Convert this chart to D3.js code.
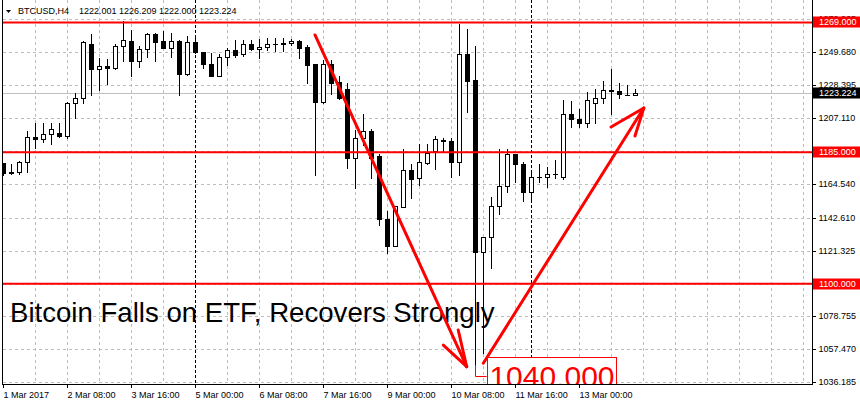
<!DOCTYPE html>
<html><head><meta charset="utf-8">
<script src="https://cdn.jsdelivr.net/npm/d3@7"></script>
<style>html,body{margin:0;padding:0;background:#fff;overflow:hidden}svg{display:block}</style>
</head><body><svg id="c" width="860" height="406"></svg>
<script>
// ---- data (BTCUSD H4, 1 Mar 2017 00:00 onward, one bar per 4h) ----
const opens = [1177.9,1171.6,1172.0,1178.5,1194.7,1193.4,1196.8,1197.3,1195.7,1216.7,
1219.9,1254.8,1238.7,1240.8,1239.3,1253.7,1257.0,1244.2,1251.6,1261.3,
1257.0,1252.6,1257.0,1235.6,1256.1,1249.7,1242.3,1234.5,1246.4,1251.1,
1248.4,1254.8,1251.6,1252.9,1254.8,1255.5,1255.5,1257.0,1252.9,1241.9,
1217.3,1241.9,1230.6,1225.7,1181.5,1194.0,1198.7,1182.6,1141.8,1124.5,
1149.9,1173.5,1168.1,1178.2,1185.8,1192.7,1192.3,1178.9,1248.4,1231.6,
1120.3,1130.0,1150.0,1163.0,1183.7,1177.2,1159.5,1168.7,1168.8,1170.8,
1168.7,1209.6,1206.3,1203.7,1217.2,1219.9,1225.1,1224.6,1222.0,1222.001];
const highs = [1178.3,1177.7,1179.5,1198.8,1203.9,1203.9,1203.9,1203.9,1217.3,1223.3,
1257.0,1261.5,1246.2,1245.3,1255.0,1270.1,1264.1,1253.7,1262.3,1262.0,
1263.6,1262.0,1257.6,1260.4,1260.4,1249.9,1249.0,1248.4,1252.6,1257.6,
1257.6,1257.6,1258.3,1258.7,1258.7,1258.7,1258.3,1257.6,1254.4,1242.1,
1244.7,1244.7,1234.3,1229.6,1199.4,1209.6,1199.9,1184.2,1147.3,1150.5,
1187.1,1177.2,1190.2,1190.3,1195.5,1194.5,1194.0,1268.3,1264.5,1253.5,
1130.2,1156.2,1187.4,1187.0,1184.2,1178.7,1172.2,1177.2,1175.6,1180.0,
1219.1,1218.3,1212.8,1223.8,1225.8,1231.4,1238.9,1229.6,1228.5,1226.209];
const lows = [1170.0,1170.8,1170.7,1172.4,1187.6,1191.8,1190.5,1195.1,1194.4,1207.3,
1217.1,1222.0,1225.3,1229.2,1238.7,1244.2,1234.3,1240.3,1246.8,1244.2,
1252.3,1246.8,1222.0,1235.0,1249.5,1239.3,1234.3,1234.3,1241.4,1246.8,
1247.5,1251.1,1245.8,1251.1,1250.7,1250.7,1254.4,1245.8,1229.6,1170.3,
1217.1,1222.5,1219.7,1175.1,1162.2,1189.7,1168.5,1137.9,1120.1,1124.3,
1149.8,1155.6,1163.8,1177.4,1174.2,1185.8,1168.7,1170.1,1211.2,1048.0,
1055.1,1110.4,1144.8,1159.5,1165.6,1153.6,1153.5,1165.9,1162.5,1168.3,
1167.8,1201.5,1201.2,1201.5,1204.2,1216.7,1209.9,1219.9,1221.8,1222.000];
const closes = [1171.5,1172.0,1178.5,1194.7,1193.4,1196.8,1199.8,1195.7,1216.7,1219.9,
1256.1,1238.7,1240.8,1239.3,1253.7,1257.6,1244.2,1251.6,1261.3,1256.5,
1252.6,1257.0,1235.6,1256.1,1249.7,1242.3,1234.5,1246.4,1251.1,1247.9,
1254.8,1251.6,1252.9,1254.8,1254.9,1254.8,1257.0,1252.6,1241.4,1217.3,
1241.9,1230.1,1219.9,1181.5,1194.0,1198.5,1181.5,1141.6,1124.5,1150.0,
1173.5,1168.0,1178.7,1184.8,1193.6,1192.0,1178.9,1248.4,1231.2,1120.3,
1130.0,1150.0,1163.0,1183.7,1177.2,1159.5,1168.7,1168.8,1170.8,1170.9,
1209.5,1206.3,1203.7,1218.5,1219.9,1225.1,1224.6,1222.5,1222.0,1223.224];

const xTickBars = [0,8,16,24,32,40,48,56,64,72];
const xTickLabels = ["1 Mar 2017","2 Mar 08:00","3 Mar 16:00","5 Mar 00:00","6 Mar 08:00",
                     "7 Mar 16:00","9 Mar 00:00","10 Mar 08:00","11 Mar 16:00","13 Mar 00:00"];
// grid / scale ticks (the ones at the red levels are hidden behind the level labels)
const yGridValues = [1270.965,1249.680,1228.395,1207.110,1185.825,1164.540,1142.610,
                     1121.325,1100.040,1078.755,1057.470,1036.185];
const yTickLabelValues = [1270.965,1249.680,1228.395,1207.110,1164.540,1142.610,
                          1121.325,1078.755,1057.470,1036.185];
const levelPrices = [1269.000,1185.000,1100.000];
const lastPrice = 1223.224;
const separatorBars = [24,66];
const headerSymbol = "BTCUSD,H4";
const headerOHLC = ["1222.001","1226.209","1222.000","1223.224"];
const titleText = "Bitcoin Falls on ETF, Recovers Strongly";
const lowLabelPrice = 1040.000;
const lowLabelBar = 59;
// arrows: [bar, price] points
const arrowDown = {from:[39.0,1260.9], to:[57.96,1046.3], wings:[[55.04,1060.3],[56.9,1070.0]]};
const arrowUp   = {from:[60.04,1048.5], to:[80.1,1213.6], wings:[[76.0,1201.4],[79.0,1195.5]]};

// ---- layout ----
const plotRight = 812, plotBottom = 384;
const FONT = "'Liberation Sans', Arial, sans-serif";
const svg = d3.select("#c");

const xs = d3.scaleLinear().domain([0,1]).range([3,11]);           // bar index -> px
const ys = d3.scaleLinear().domain([1036.185,1249.68]).range([382.3,52.3]);
const yr = ys.copy().interpolate(d3.interpolateRound);
const col = i => Math.floor(xs(i));
const row = v => Math.round(ys(v));

svg.append("defs").append("clipPath").attr("id","plot")
  .append("rect").attr("x",3).attr("y",0).attr("width",plotRight-3).attr("height",plotBottom);

const grid = svg.append("g").attr("clip-path","url(#plot)");
const vBars = d3.range(4, 101, 4).filter(b => !separatorBars.includes(b));
grid.selectAll("line.vg").data(vBars).join("line")
  .attr("x1",d=>col(d)+0.5).attr("x2",d=>col(d)+0.5)
  .attr("y1",0).attr("y2",plotBottom)
  .attr("stroke","#bdbdbd").attr("stroke-dasharray","3,3");
grid.selectAll("line.hg").data(yGridValues).join("line")
  .attr("x1",3).attr("x2",plotRight)
  .attr("y1",d=>yr(d)+0.5).attr("y2",d=>yr(d)+0.5)
  .attr("stroke","#bdbdbd").attr("stroke-dasharray","3,3");
grid.append("line").attr("x1",3).attr("x2",plotRight)
  .attr("y1",row(lastPrice)+0.5).attr("y2",row(lastPrice)+0.5).attr("stroke","#c0c0c0");
grid.selectAll("line.sep").data(separatorBars).join("line")
  .attr("x1",d=>col(d)+0.5).attr("x2",d=>col(d)+0.5)
  .attr("y1",0).attr("y2",plotBottom)
  .attr("stroke","#000").attr("stroke-dasharray","3,2");

// candles
const bars = d3.range(opens.length).map(i => ({i,o:opens[i],h:highs[i],l:lows[i],c:closes[i]}));
const cg = svg.append("g").attr("clip-path","url(#plot)");
const candle = cg.selectAll("g.c").data(bars).join("g");
candle.append("line")
  .attr("x1",d=>col(d.i)+0.5).attr("x2",d=>col(d.i)+0.5)
  .attr("y1",d=>row(d.h)).attr("y2",d=>row(d.l)+1)
  .attr("stroke","#000");
candle.each(function(d){
  const g = d3.select(this);
  const t = row(Math.max(d.o,d.c)), b = row(Math.min(d.o,d.c));
  const cx = col(d.i);
  if (b - t < 1) {
    g.append("line").attr("x1",cx-2).attr("x2",cx+3).attr("y1",t+0.5).attr("y2",t+0.5).attr("stroke","#000");
  } else if (d.c >= d.o) {
    g.append("rect").attr("x",cx-1.5).attr("y",t+0.5).attr("width",4).attr("height",b-t)
      .attr("fill","#fff").attr("stroke","#000");
  } else {
    g.append("rect").attr("x",cx-2).attr("y",t).attr("width",5).attr("height",b-t+1).attr("fill","#000");
  }
});

// level lines
const ann = svg.append("g").attr("clip-path","url(#plot)");
ann.selectAll("line.lv").data(levelPrices).join("line")
  .attr("x1",3).attr("x2",plotRight)
  .attr("y1",d=>ys(d)).attr("y2",d=>ys(d))
  .attr("stroke","#ff0000").attr("stroke-width",2);

// title text
ann.append("text").attr("x",xs(0.875)).attr("y",ys(1075.2))
  .attr("font-family",FONT).attr("font-size",27.6).attr("fill","#000").text(titleText);

// arrows
const P = p => [xs(p[0]), ys(p[1])];
[arrowDown, arrowUp].forEach(a => {
  const segs = [[a.from,a.to]].concat(a.wings.map(w => [w,a.to]));
  ann.selectAll(null).data(segs).join("line")
    .attr("x1",d=>P(d[0])[0]).attr("y1",d=>P(d[0])[1])
    .attr("x2",d=>P(d[1])[0]).attr("y2",d=>P(d[1])[1])
    .attr("stroke","#ff0000").attr("stroke-width",3).attr("stroke-linecap","round");
});

// 1040 label
const lx = col(lowLabelBar)+0.5, ly = row(lowLabelPrice)+0.5;
ann.append("path")
  .attr("d",`M${lx},${row(lows[lowLabelBar])+1}V${ly}H${xs(60.46)}`)
  .attr("fill","none").attr("stroke","#ff0000");
ann.append("rect").attr("x",Math.round(xs(60.46))+0.5).attr("y",Math.round(ys(1052.7))+0.5)
  .attr("width",Math.round(xs(76.6)-xs(60.46))).attr("height",60)
  .attr("fill","#fff").attr("stroke","#ff0000");
ann.append("text").attr("x",xs(60.8)).attr("y",ys(1033.4))
  .attr("font-family",FONT).attr("font-size",30).attr("fill","#ff0000")
  .text(d3.format(".3f")(lowLabelPrice));

// axes frame
svg.append("line").attr("x1",2.5).attr("x2",2.5).attr("y1",0).attr("y2",plotBottom+0.5).attr("stroke","#000");
svg.append("line").attr("x1",plotRight+0.5).attr("x2",plotRight+0.5).attr("y1",0).attr("y2",plotBottom+1).attr("stroke","#000");
svg.append("line").attr("x1",2).attr("x2",plotRight+1).attr("y1",plotBottom+0.5).attr("y2",plotBottom+0.5).attr("stroke","#000");

// y axis
const yAxis = d3.axisRight(yr).tickValues(yTickLabelValues).tickSize(4).tickPadding(2.5)
  .tickFormat(d3.format(".3f"));
const yg = svg.append("g").attr("transform",`translate(${plotRight},0)`).call(yAxis);
yg.select(".domain").remove();
yg.selectAll("text").attr("font-family",FONT).attr("font-size",9).attr("fill","#000");
yg.selectAll("line").attr("stroke","#000");

// x axis
const xAxis = d3.axisBottom(xs).tickValues(xTickBars).tickSize(4).tickSizeOuter(0)
  .tickFormat((d,i)=>xTickLabels[i]);
const xg = svg.append("g").attr("transform",`translate(0,${plotBottom})`).call(xAxis);
xg.select(".domain").remove();
xg.selectAll("text").attr("font-family",FONT).attr("font-size",9).attr("fill","#000")
  .attr("text-anchor","start").attr("x",0).attr("y",13.5).attr("dy",0);
xg.selectAll("line").attr("stroke","#000");

// price labels on the right scale
const lab = svg.append("g");
levelPrices.forEach(p => {
  const yy = ys(p);
  lab.append("rect").attr("x",plotRight+1).attr("y",Math.round(yy)-5.5).attr("width",860-plotRight).attr("height",11).attr("fill","#ff0000");
  lab.append("text").attr("x",819).attr("y",yy).attr("dy","0.34em")
    .attr("font-family",FONT).attr("font-size",9).attr("fill","#fff").text(d3.format(".3f")(p));
});
{
  const yy = ys(lastPrice);
  lab.append("rect").attr("x",plotRight+1).attr("y",Math.round(yy)-5.5).attr("width",860-plotRight).attr("height",11).attr("fill","#000");
  lab.append("text").attr("x",819).attr("y",yy).attr("dy","0.34em")
    .attr("font-family",FONT).attr("font-size",9).attr("fill","#fff").text(d3.format(".3f")(lastPrice));
}

// header
svg.append("path").attr("d","M6,10H11L8.5,13Z").attr("fill","#000");
svg.append("text").attr("x",18).attr("y",14).attr("font-family",FONT).attr("font-size",9).attr("fill","#000").text(headerSymbol);
svg.selectAll("text.ohlc").data(headerOHLC).join("text").attr("class","ohlc")
  .attr("x",(d,i)=>79+40*i).attr("y",14).attr("font-family",FONT).attr("font-size",9).attr("fill","#000").text(d=>d);
</script></body></html>
